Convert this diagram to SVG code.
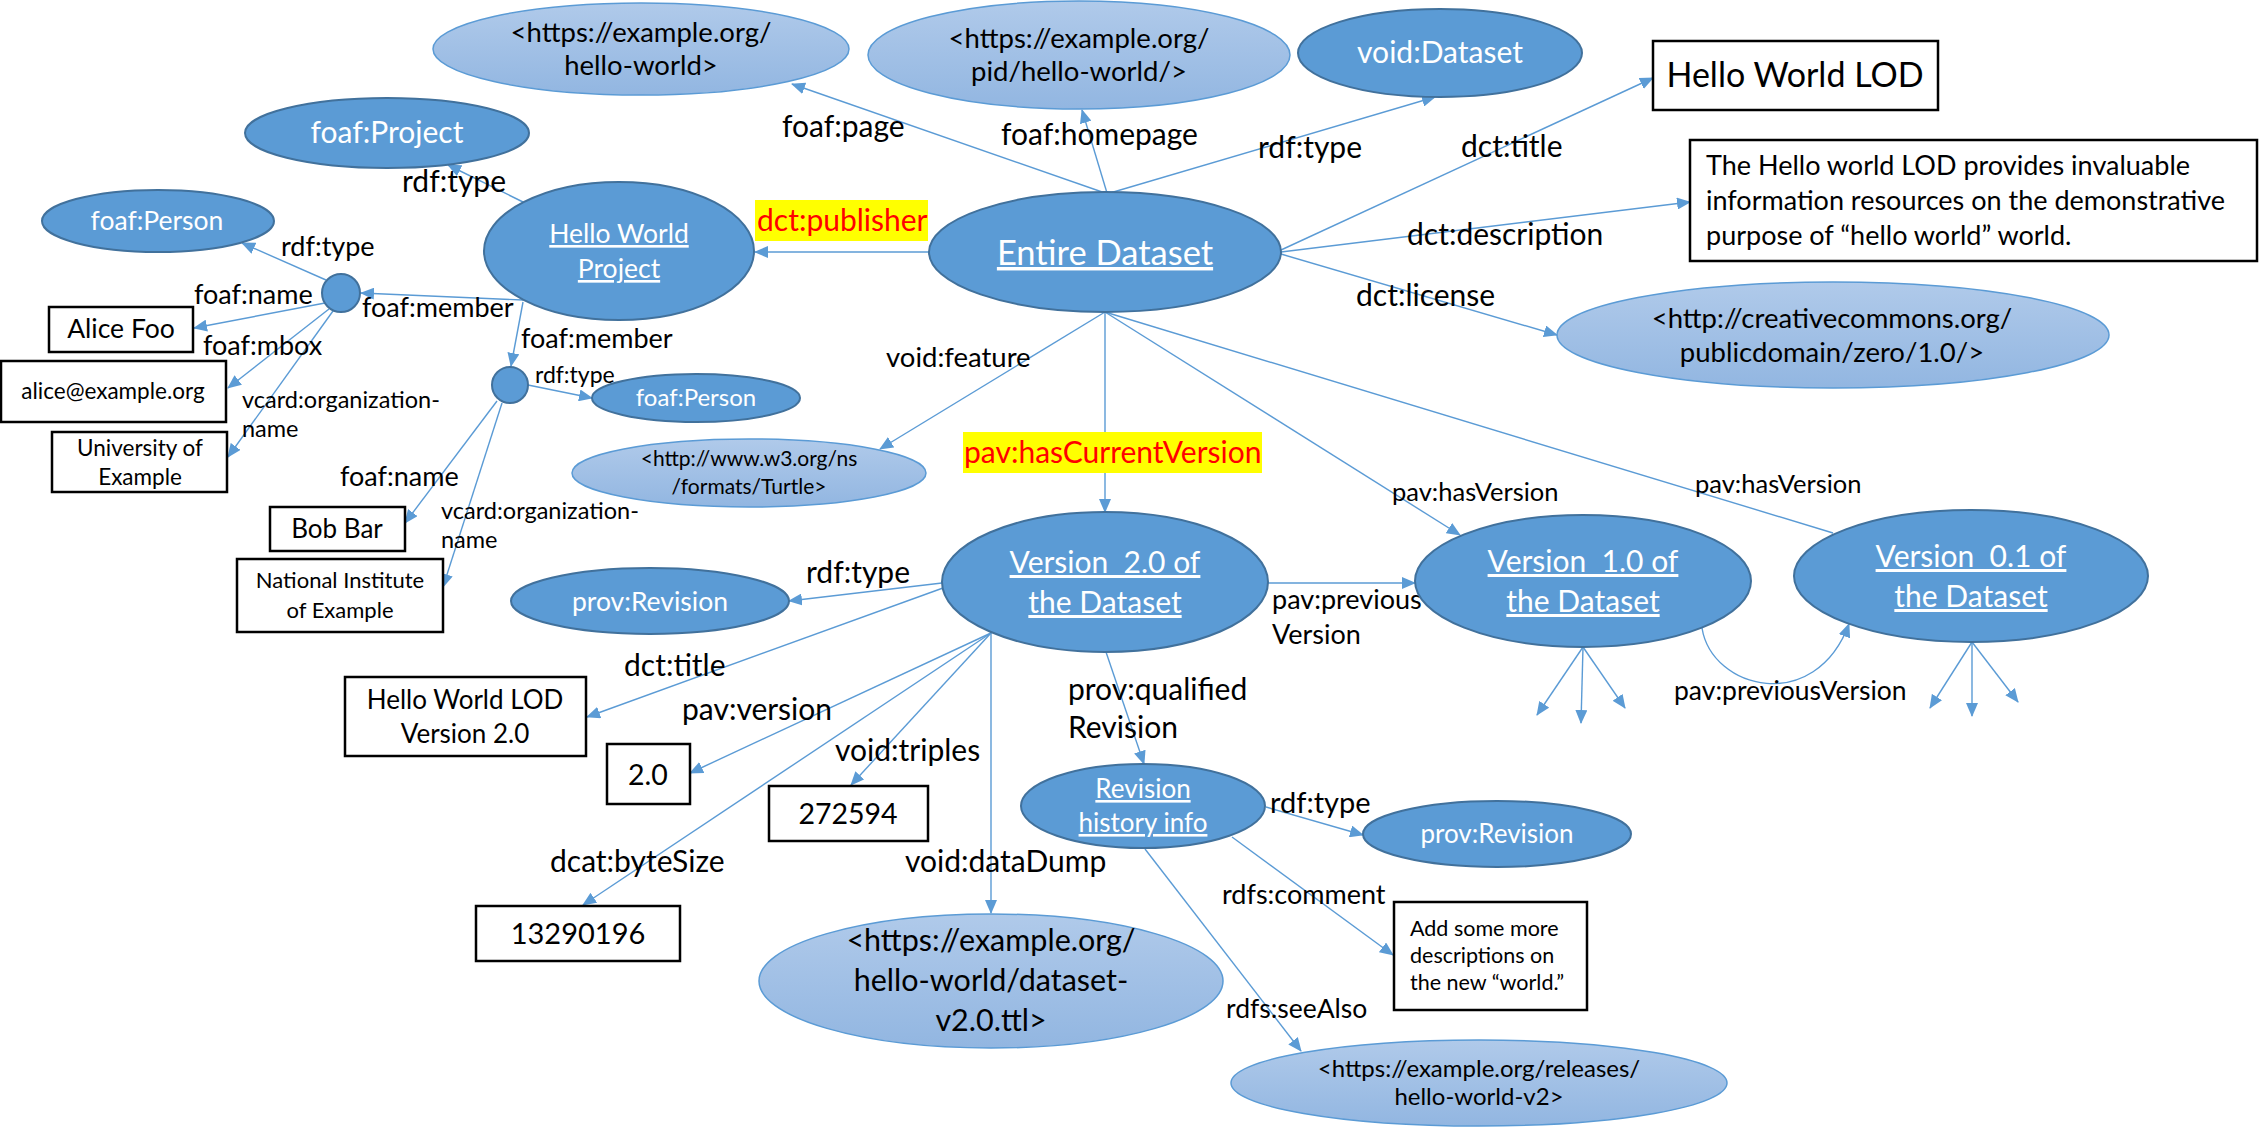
<svg xmlns="http://www.w3.org/2000/svg" width="2259" height="1128" viewBox="0 0 2259 1128">
<defs>
<style>
text{font-family:Lato,"Liberation Sans",sans-serif;fill:#000}
.dk{fill:#5B9BD5;stroke:#41719C;stroke-width:2}
.lt{fill:url(#lg);stroke:#5B9BD5;stroke-width:1.5}
.bx{fill:#fff;stroke:#000;stroke-width:2.5}
.e{fill:none;stroke:#5B9BD5;stroke-width:1.4;marker-end:url(#ah)}
.n{fill:none;stroke:#5B9BD5;stroke-width:1.4}
.c{text-anchor:middle}
.w{fill:#fff;text-anchor:middle}
.u{text-decoration:underline}
.r{fill:#F00}
.hl{fill:#FF0}
</style>
<linearGradient id="lg" x1="0" y1="0" x2="0" y2="1"><stop offset="0" stop-color="#B0CAEA"/><stop offset="1" stop-color="#92B6E1"/></linearGradient>
<marker id="ah" markerWidth="14" markerHeight="12" refX="13" refY="6" orient="auto" markerUnits="userSpaceOnUse"><path d="M0,0 L14,6 L0,12 z" fill="#5B9BD5"/></marker>
</defs>
<rect width="2259" height="1128" fill="#fff"/>

<g id="connectors">
<path class="e" d="M1105,193 L792,84"/>
<path class="e" d="M1107,193 L1082,110"/>
<path class="e" d="M1110,193 L1435,97"/>
<path class="e" d="M1281,250 L1653,78"/>
<path class="e" d="M1281,252 L1690,202"/>
<path class="e" d="M1281,254 L1557,335"/>
<path class="e" d="M929,252 L755,252"/>
<path class="e" d="M1105,312 L880,449"/>
<path class="e" d="M1105,312 L1105,512"/>
<path class="e" d="M1105,312 L1460,535"/>
<path class="n" d="M1105,312 L1833,533"/>
<path class="e" d="M523,202 L448,165"/>
<path class="e" d="M523,300 L361,293"/>
<path class="e" d="M523,302 L511,366"/>
<path class="e" d="M326,280 L242,243"/>
<path class="e" d="M325,303 L194,328"/>
<path class="e" d="M329,309 L228,388"/>
<path class="e" d="M333,311 L228,457"/>
<path class="e" d="M528,385 L592,398"/>
<path class="e" d="M497,401 L405,523"/>
<path class="e" d="M502,403 L443,587"/>
<path class="e" d="M942,583 L789,601"/>
<path class="e" d="M943,588 L587,717"/>
<path class="e" d="M991,633 L690,773"/>
<path class="e" d="M991,633 L583,905"/>
<path class="e" d="M991,633 L851,785"/>
<path class="e" d="M991,633 L991,913"/>
<path class="e" d="M1268,583 L1415,583"/>
<path class="e" d="M1106,652 L1144,764"/>
<path class="e" d="M1702,628 C1712,690 1815,715 1849,624"/>
<path class="e" d="M1583,647 L1537,715"/>
<path class="e" d="M1583,647 L1581,723"/>
<path class="e" d="M1583,647 L1625,708"/>
<path class="e" d="M1972,642 L1930,708"/>
<path class="e" d="M1972,642 L1972,716"/>
<path class="e" d="M1972,642 L2018,702"/>
<path class="e" d="M1266,807 L1363,835"/>
<path class="e" d="M1232,837 L1393,955"/>
<path class="e" d="M1145,849 L1301,1051"/>
</g>

<g id="edge-labels">
<text x="782" y="137" font-size="30">foaf:page</text>
<text x="1001" y="145" font-size="30">foaf:homepage</text>
<text x="1258" y="158" font-size="30">rdf:type</text>
<text x="1461" y="157" font-size="30">dct:title</text>
<text x="1407" y="245" font-size="30">dct:description</text>
<text x="1356" y="306" font-size="30">dct:license</text>
<rect class="hl" x="755" y="200" width="173" height="41"/>
<text class="r" x="757" y="231" font-size="30">dct:publisher</text>
<text x="886" y="367" font-size="27.5">void:feature</text>
<rect class="hl" x="963" y="432" width="299" height="41"/>
<text class="r" x="964" y="463" font-size="30">pav:hasCurrentVersion</text>
<text x="1392" y="501" font-size="25.5">pav:hasVersion</text>
<text x="1695" y="493" font-size="25.5">pav:hasVersion</text>
<text x="402" y="192" font-size="30">rdf:type</text>
<text x="281" y="256" font-size="27">rdf:type</text>
<text x="194" y="304" font-size="27">foaf:name</text>
<text x="362" y="317" font-size="27">foaf:member</text>
<text x="521" y="348" font-size="27">foaf:member</text>
<text x="203" y="355" font-size="27">foaf:mbox</text>
<text x="242" y="408" font-size="23.5">vcard:organization-</text>
<text x="242" y="437" font-size="23.5">name</text>
<text x="535" y="383" font-size="23">rdf:type</text>
<text x="340" y="486" font-size="27">foaf:name</text>
<text x="441" y="519" font-size="23.5">vcard:organization-</text>
<text x="441" y="548" font-size="23.5">name</text>
<text x="806" y="583" font-size="30">rdf:type</text>
<text x="624" y="676" font-size="30">dct:title</text>
<text x="682" y="720" font-size="30">pav:version</text>
<text x="835" y="761" font-size="30">void:triples</text>
<text x="550" y="872" font-size="30">dcat:byteSize</text>
<text x="905" y="872" font-size="30">void:dataDump</text>
<text x="1272" y="609" font-size="27">pav:previous</text>
<text x="1272" y="644" font-size="27">Version</text>
<text x="1068" y="700" font-size="30">prov:qualified</text>
<text x="1068" y="738" font-size="30">Revision</text>
<text x="1674" y="700" font-size="26.5">pav:previousVersion</text>
<text x="1270" y="813" font-size="29">rdf:type</text>
<text x="1222" y="904" font-size="27">rdfs:comment</text>
<text x="1226" y="1018" font-size="26.5">rdfs:seeAlso</text>
</g>

<g id="n-page"><ellipse class="lt" cx="641" cy="49" rx="208" ry="46"/>
<text class="c" x="641" y="42" font-size="27.5">&lt;https://example.org/</text><text class="c" x="641" y="75" font-size="27.5">hello-world&gt;</text></g>
<g id="n-homepage"><ellipse class="lt" cx="1079" cy="55" rx="211" ry="54"/>
<text class="c" x="1079" y="48" font-size="27.5">&lt;https://example.org/</text><text class="c" x="1079" y="81" font-size="27.5">pid/hello-world/&gt;</text></g>
<g id="n-voiddataset"><ellipse class="dk" cx="1440" cy="53" rx="142" ry="44"/>
<text class="w" x="1440" y="63" font-size="30">void:Dataset</text></g>
<g id="n-title"><rect class="bx" x="1653" y="41" width="285" height="69"/>
<text class="c" x="1795" y="87" font-size="34">Hello World LOD</text></g>
<g id="n-description"><rect class="bx" x="1690" y="140" width="567" height="121"/>
<text x="1706" y="175" font-size="27">The Hello world LOD provides invaluable</text>
<text x="1706" y="210" font-size="27">information resources on the demonstrative</text>
<text x="1706" y="245" font-size="27">purpose of “hello world” world.</text></g>
<g id="n-license"><ellipse class="lt" cx="1833" cy="335" rx="276" ry="53"/>
<text class="c" x="1832" y="328" font-size="27.5">&lt;http://creativecommons.org/</text><text class="c" x="1832" y="362" font-size="27.5">publicdomain/zero/1.0/&gt;</text></g>
<g id="n-entire"><ellipse class="dk" cx="1105" cy="252" rx="176" ry="60"/>
<text class="w u" x="1105" y="265" font-size="34.5">Entire Dataset</text></g>
<g id="n-project"><ellipse class="dk" cx="619" cy="251" rx="135" ry="69"/>
<text class="w u" x="619" y="243" font-size="26.5">Hello World</text><text class="w u" x="619" y="278" font-size="26.5">Project</text></g>
<g id="n-foafproject"><ellipse class="dk" cx="387" cy="133" rx="142" ry="35"/>
<text class="w" x="387" y="143" font-size="30">foaf:Project</text></g>
<g id="n-person1"><ellipse class="dk" cx="158" cy="221" rx="116" ry="31"/>
<text class="w" x="157" y="230" font-size="26.5">foaf:Person</text></g>
<g id="n-blank1"><ellipse class="dk" cx="341" cy="293" rx="19" ry="19"/></g>
<g id="n-alice"><rect class="bx" x="49" y="307" width="144" height="45"/>
<text class="c" x="121" y="338" font-size="26.5">Alice Foo</text></g>
<g id="n-mbox"><rect class="bx" x="1" y="361" width="225" height="61"/>
<text class="c" x="113" y="399" font-size="22.5">alice@example.org</text></g>
<g id="n-univ"><rect class="bx" x="52" y="432" width="175" height="60"/>
<text class="c" x="140" y="456" font-size="22.5">University of</text><text class="c" x="140" y="485" font-size="22.5">Example</text></g>
<g id="n-blank2"><ellipse class="dk" cx="510" cy="385" rx="18" ry="18"/></g>
<g id="n-person2"><ellipse class="dk" cx="696" cy="398" rx="104" ry="24"/>
<text class="w" x="696" y="406" font-size="24">foaf:Person</text></g>
<g id="n-turtle"><ellipse class="lt" cx="749" cy="473" rx="177" ry="34"/>
<text class="c" x="749" y="466" font-size="21">&lt;http://www.w3.org/ns</text><text class="c" x="749" y="494" font-size="21">/formats/Turtle&gt;</text></g>
<g id="n-bob"><rect class="bx" x="270" y="507" width="135" height="44"/>
<text class="c" x="337" y="538" font-size="26">Bob Bar</text></g>
<g id="n-nie"><rect class="bx" x="237" y="559" width="206" height="73"/>
<text class="c" x="340" y="588" font-size="22">National Institute</text><text class="c" x="340" y="618" font-size="22">of Example</text></g>
<g id="n-revision1"><ellipse class="dk" cx="650" cy="601" rx="139" ry="33"/>
<text class="w" x="650" y="611" font-size="26.5">prov:Revision</text></g>
<g id="n-v2"><ellipse class="dk" cx="1105" cy="582" rx="163" ry="70"/>
<text class="w u" x="1105" y="573" font-size="30" xml:space="preserve">Version  2.0 of</text><text class="w u" x="1105" y="613" font-size="30">the Dataset</text></g>
<g id="n-v1"><ellipse class="dk" cx="1583" cy="581" rx="168" ry="66"/>
<text class="w u" x="1583" y="572" font-size="30" xml:space="preserve">Version  1.0 of</text><text class="w u" x="1583" y="612" font-size="30">the Dataset</text></g>
<g id="n-v01"><ellipse class="dk" cx="1971" cy="576" rx="177" ry="66"/>
<text class="w u" x="1971" y="567" font-size="30" xml:space="preserve">Version  0.1 of</text><text class="w u" x="1971" y="607" font-size="30">the Dataset</text></g>
<g id="n-title2"><rect class="bx" x="345" y="677" width="241" height="79"/>
<text class="c" x="465" y="709" font-size="26">Hello World LOD</text><text class="c" x="465" y="743" font-size="26">Version 2.0</text></g>
<g id="n-version"><rect class="bx" x="607" y="744" width="83" height="60"/>
<text class="c" x="648" y="785" font-size="28.5">2.0</text></g>
<g id="n-triples"><rect class="bx" x="769" y="786" width="159" height="55"/>
<text class="c" x="848" y="824" font-size="28.5">272594</text></g>
<g id="n-bytesize"><rect class="bx" x="476" y="906" width="204" height="55"/>
<text class="c" x="578" y="944" font-size="29">13290196</text></g>
<g id="n-dump"><ellipse class="lt" cx="991" cy="981" rx="232" ry="67"/>
<text class="c" x="991" y="951" font-size="30.5">&lt;https://example.org/</text><text class="c" x="991" y="991" font-size="30.5">hello-world/dataset-</text><text class="c" x="991" y="1031" font-size="30.5">v2.0.ttl&gt;</text></g>
<g id="n-revinfo"><ellipse class="dk" cx="1143" cy="806" rx="122" ry="42"/>
<text class="w u" x="1143" y="798" font-size="26">Revision</text><text class="w u" x="1143" y="832" font-size="26">history info</text></g>
<g id="n-revision2"><ellipse class="dk" cx="1497" cy="834" rx="134" ry="33"/>
<text class="w" x="1497" y="843" font-size="26">prov:Revision</text></g>
<g id="n-comment"><rect class="bx" x="1394" y="902" width="193" height="108"/>
<text x="1410" y="936" font-size="21.5">Add some more</text><text x="1410" y="963" font-size="21.5">descriptions on</text><text x="1410" y="990" font-size="21.5">the new “world.”</text></g>
<g id="n-releases"><ellipse class="lt" cx="1479" cy="1083" rx="248" ry="43"/>
<text class="c" x="1479" y="1077" font-size="24">&lt;https://example.org/releases/</text><text class="c" x="1479" y="1105" font-size="24">hello-world-v2&gt;</text></g>
</svg>
